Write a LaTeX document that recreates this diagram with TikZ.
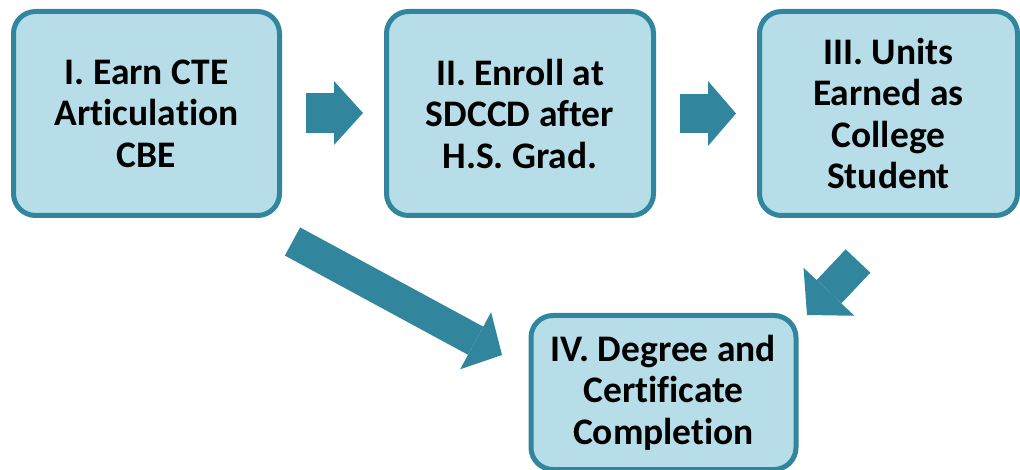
\documentclass[tikz,border=0pt]{standalone}
\usepackage{fontspec}
\setmainfont{Carlito}[Ligatures={NoCommon}]
\usetikzlibrary{arrows.meta}
\definecolor{boxfill}{HTML}{B7DEE8}
\definecolor{arrowteal}{HTML}{31859C}
\begin{document}
\begin{tikzpicture}[x=1pt,y=-1pt,
  stepbox/.style={draw=arrowteal, line width=5pt, fill=boxfill, rounded corners=22pt,
    align=center, inner sep=0pt, font=\fontsize{37.5}{41.5}\selectfont\bfseries},
  blockarrow/.style={draw=arrowteal, line width=#1},
]
\useasboundingbox (0,0) rectangle (1020,470);
\node[stepbox, minimum width=266pt, minimum height=204pt] (s1) at (146.5,113.5) {I. Earn CTE\\Articulation\\CBE};
\node[stepbox, minimum width=267pt, minimum height=204pt] (s2) at (520,113.5) {II. Enroll at\\SDCCD after\\H.S. Grad.};
\node[stepbox, minimum width=258pt, minimum height=204pt] (s3) at (888.5,113.5) {III. Units\\Earned as\\College\\Student};
\node[stepbox, minimum width=265pt, minimum height=154pt] (s4) at (663.5,392.5) {IV. Degree and\\Certificate\\Completion};
% arrow end points
\coordinate (a1s) at (306,113);
\coordinate (a1e) at (363,113);
\coordinate (a2s) at (680,113.5);
\coordinate (a2e) at (736,113.5);
\coordinate (a3s) at (292.5,241.5);
\coordinate (a3e) at (502,355);
\coordinate (a4s) at (858,261);
\coordinate (a4e) at (807,315);
\draw[blockarrow=40pt, -{Triangle[length=29pt,width=64pt,line width=0pt]}] (a1s) -- (a1e);
\draw[blockarrow=39pt, -{Triangle[length=28pt,width=65pt,line width=0pt]}] (a2s) -- (a2e);
\draw[blockarrow=32pt, -{Triangle[length=30pt,width=65pt,line width=0pt]}] (a3s) -- (a3e);
\draw[blockarrow=34pt, -{Triangle[length=32pt,width=70pt,line width=0pt]}] (a4s) -- (a4e);
\end{tikzpicture}
\end{document}
